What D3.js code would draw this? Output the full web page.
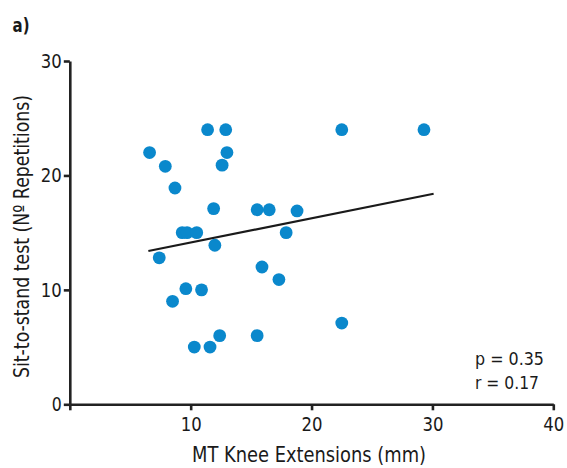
<!DOCTYPE html>
<html><head><meta charset="utf-8">
<script src="https://cdn.jsdelivr.net/npm/d3@7"></script>
<style>
html,body{margin:0;padding:0;background:#fff;}
svg{display:block;}
text{font-family:"DejaVu Sans",sans-serif;fill:#1a1a1a;}
</style></head>
<body><svg id="c" width="567" height="468"></svg>
<script>
const kneeExt = [11.4,12.9,6.6,13.0,7.9,12.6,8.7,11.9,15.5,16.5,18.8,9.3,9.7,10.5,17.9,7.4,12.0,15.9,17.3,9.6,10.9,8.5,12.4,15.5,10.3,11.6,22.5,29.3,22.5];
const sitToStand = [24,24,22,22,20.8,20.9,18.9,17.1,17,17,16.9,15,15,15,15,12.8,13.9,12,10.9,10.1,10,9,6,6,5,5,24,24,7.1];
const trendX = [6.5, 30.1];
const trendY = [13.4, 18.4];
const xTicks = [0,10,20,30,40];
const yTicks = [0,10,20,30];
const stats = ["p = 0.35","r = 0.17"];

const svg = d3.select("#c");
const x = d3.scaleLinear().domain([0,40]).range([69.8,553.3]);
const y = d3.scaleLinear().domain([0,30]).range([404.3,61]);

const xa = svg.append("g").attr("transform","translate(0,404.3)")
  .call(d3.axisBottom(x).tickValues(xTicks).tickFormat(d=>d===0?"":d).tickSize(6).tickSizeOuter(0).tickPadding(7));
const ya = svg.append("g").attr("transform","translate(69.8,0)")
  .call(d3.axisLeft(y).tickValues(yTicks).tickSize(6).tickSizeOuter(0).tickPadding(2));
[xa,ya].forEach(a=>{
  a.select(".domain").attr("stroke","#222").attr("stroke-width",2.6);
  a.selectAll(".tick line").attr("stroke","#222").attr("stroke-width",2.6);
  a.selectAll(".tick text").attr("font-size",20).attr("fill","#1a1a1a")
   .style("font-family",'"DejaVu Sans",sans-serif')
   .attr("lengthAdjust","spacingAndGlyphs")
   .attr("textLength",d=>String(d).length>1?21:10);
});

svg.append("path")
  .datum(trendX.map((d,i)=>[d,trendY[i]]))
  .attr("d", d3.line().x(d=>x(d[0])).y(d=>y(d[1])))
  .attr("fill","none").attr("stroke","#1a1a1a").attr("stroke-width",2.2);

svg.append("g").selectAll("circle")
  .data(kneeExt.map((d,i)=>[d,sitToStand[i]]))
  .join("circle")
  .attr("cx",d=>x(d[0])).attr("cy",d=>y(d[1])).attr("r",6.4)
  .attr("fill","#0a88cc");

svg.append("text").attr("x",12.5).attr("y",32).attr("font-size",20).attr("font-weight","bold")
  .attr("textLength",17).attr("lengthAdjust","spacingAndGlyphs").text("a)");

svg.append("text").attr("x",309).attr("y",462).attr("text-anchor","middle").attr("font-size",21)
  .attr("textLength",234).attr("lengthAdjust","spacingAndGlyphs")
  .text("MT Knee Extensions (mm)");
svg.append("text").attr("transform","translate(28.5,236.5) rotate(-90)").attr("text-anchor","middle").attr("font-size",21)
  .attr("textLength",283).attr("lengthAdjust","spacingAndGlyphs")
  .text("Sit-to-stand test (Nº Repetitions)");

svg.append("g").selectAll("text").data(stats).join("text")
  .attr("x",475).attr("y",(d,i)=>365+i*24.4).attr("font-size",18.5)
  .attr("lengthAdjust","spacingAndGlyphs").attr("textLength",(d,i)=>i===0?69:64)
  .text(d=>d);
</script></body></html>
